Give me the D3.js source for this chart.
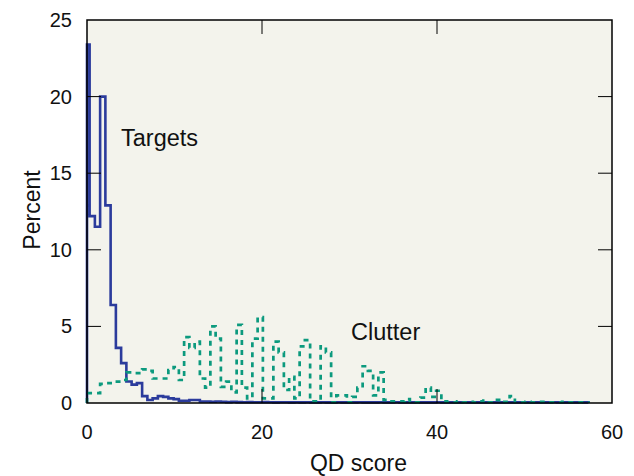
<!DOCTYPE html>
<html>
<head>
<meta charset="utf-8">
<script src="https://cdn.jsdelivr.net/npm/d3@7"></script>
<style>
  body { margin: 0; background: #fff; }
  svg text { font-family: "Liberation Sans", Arial, sans-serif; fill: #111; }
</style>
</head>
<body>
<svg width="634" height="476"></svg>
<script>
// Histogram bins (QD score), width 0.6, bin k centred on k * 0.6
const binWidth = 0.6;

// Targets, percent per bin
const targets = [
  23.4, 12.2, 11.5, 20.0, 12.9, 6.4, 3.6, 2.6, 1.4, 1.2,
  1.3, 0.45, 0.2, 0.3, 0.45, 0.4, 0.3, 0.25, 0.15, 0.15,
  0.2, 0.2, 0.1, 0.1, 0.08, 0.1, 0.08, 0.06, 0.08, 0.06,
  0.05, 0.06, 0.05, 0.05, 0.06, 0.05, 0.04, 0.05, 0.05, 0.04,
  0.05, 0.04, 0.05, 0.04, 0.04, 0.05, 0.04, 0.04, 0.05, 0.04,
  0.04, 0.04, 0.05, 0.04, 0.04, 0.04, 0.05, 0.04, 0.04, 0.05,
  0.04, 0.04, 0.04, 0.05, 0.04, 0.04, 0.04, 0.05, 0.04, 0.04,
  0.04, 0.04, 0.05, 0.04, 0.04, 0.04, 0.04, 0.05, 0.04, 0.04,
  0.04, 0.04, 0.04, 0.05, 0.04, 0.04, 0.04, 0.04, 0.04, 0.05,
  0.04, 0.04, 0.04, 0.04, 0.05, 0.04
];

// Clutter, percent per bin
const clutter = [
  0.65, 0.65, 0.65, 1.25, 1.3, 1.4, 1.4, 1.5, 2.0, 1.95,
  1.95, 2.2, 2.1, 1.6, 1.6, 1.6, 2.15, 2.35, 1.5, 4.3,
  3.6, 4.0, 1.6, 1.0, 5.0, 4.2, 1.05, 1.4, 0.7, 5.1,
  1.0, 0.3, 4.2, 5.6, 0.3, 0.3, 4.0, 3.3, 0.85, 1.7,
  0.3, 3.7, 4.1, 0.1, 0.1, 3.7, 3.3, 0.05, 0.5, 0.5,
  0.05, 0.4, 1.0, 2.4, 2.1, 0.5, 2.0, 0.2, 0.1, 0.1,
  0.1, 0.25, 0.1, 0.05, 0.35, 1.0, 0.4, 0.8, 0.1, 0.08,
  0.05, 0.1, 0.05, 0.08, 0.05, 0.1, 0.15, 0.05, 0.2, 0.05,
  0.08, 0.45, 0.05, 0.05, 0.08, 0.05, 0.05, 0.08, 0.05, 0.05,
  0.05, 0.08, 0.05, 0.05, 0.05, 0.05
];

const xTicks = [0, 20, 40, 60];
const yTicks = [0, 5, 10, 15, 20, 25];

const width = 634;
const height = 476;
const margin = { top: 20, right: 22, bottom: 73, left: 87 };

const svg = d3.select("svg");

const x = d3.scaleLinear()
    .domain([0, 60])
    .range([margin.left, width - margin.right]);

const y = d3.scaleLinear()
    .domain([0, 25])
    .range([height - margin.bottom, margin.top]);

// Plot background
svg.append("rect")
    .attr("x", x(0))
    .attr("y", y(25))
    .attr("width", x(60) - x(0))
    .attr("height", y(0) - y(25))
    .attr("fill", "#f3f3ec");

// Turn bin values into step-line points (left edges, then closing edge)
function stepPoints(values) {
    const pts = [[0, 0]];
    values.forEach((v, k) => {
        pts.push([Math.max(0, (k - 0.5) * binWidth), v]);
    });
    pts.push([(values.length - 0.5) * binWidth, 0]);
    return pts;
}

const line = d3.line()
    .x(d => x(d[0]))
    .y(d => y(d[1]))
    .curve(d3.curveStepAfter);

// Targets histogram
svg.append("path")
    .datum(stepPoints(targets))
    .attr("fill", "none")
    .attr("stroke", "#2b3b9c")
    .attr("stroke-width", 2.6)
    .attr("d", line);

// Clutter histogram (dashed)
svg.append("path")
    .datum(stepPoints(clutter))
    .attr("fill", "none")
    .attr("stroke", "#0c9a7e")
    .attr("stroke-width", 2.7)
    .attr("stroke-dasharray", "5,5")
    .attr("d", line);

// Inner ticks, all four sides
const tickLen = 14;
const ticks = svg.append("g").attr("stroke", "#000").attr("stroke-width", 1);

yTicks.slice(1, -1).forEach(t => {
    ticks.append("line")
        .attr("x1", x(0)).attr("x2", x(0) + tickLen)
        .attr("y1", y(t)).attr("y2", y(t));
    ticks.append("line")
        .attr("x1", x(60) - tickLen).attr("x2", x(60))
        .attr("y1", y(t)).attr("y2", y(t));
});

xTicks.slice(1, -1).forEach(t => {
    ticks.append("line")
        .attr("x1", x(t)).attr("x2", x(t))
        .attr("y1", y(0)).attr("y2", y(0) - tickLen);
    ticks.append("line")
        .attr("x1", x(t)).attr("x2", x(t))
        .attr("y1", y(25)).attr("y2", y(25) + tickLen);
});

// Frame
svg.append("rect")
    .attr("x", x(0))
    .attr("y", y(25))
    .attr("width", x(60) - x(0))
    .attr("height", y(0) - y(25))
    .attr("fill", "none")
    .attr("stroke", "#000")
    .attr("stroke-width", 1.5);

// Tick labels
svg.selectAll(".ylab")
    .data(yTicks)
    .enter()
    .append("text")
    .attr("class", "ylab")
    .attr("x", x(0) - 15)
    .attr("y", d => y(d) + 7)
    .attr("text-anchor", "end")
    .attr("font-size", 20)
    .text(d => d);

svg.selectAll(".xlab")
    .data(xTicks)
    .enter()
    .append("text")
    .attr("class", "xlab")
    .attr("x", d => x(d))
    .attr("y", y(0) + 36)
    .attr("text-anchor", "middle")
    .attr("font-size", 20)
    .text(d => d);

// Axis titles
svg.append("text")
    .attr("x", (x(0) + x(60)) / 2 + 9)
    .attr("y", height - 5)
    .attr("text-anchor", "middle")
    .attr("font-size", 23)
    .text("QD score");

svg.append("text")
    .attr("transform", "rotate(-90)")
    .attr("x", -210)
    .attr("y", 40)
    .attr("text-anchor", "middle")
    .attr("font-size", 23)
    .text("Percent");

// Series labels
svg.append("text")
    .attr("x", 121)
    .attr("y", 146)
    .attr("font-size", 23.5)
    .text("Targets");

svg.append("text")
    .attr("x", 351)
    .attr("y", 340)
    .attr("font-size", 23.5)
    .text("Clutter");
</script>
</body>
</html>
